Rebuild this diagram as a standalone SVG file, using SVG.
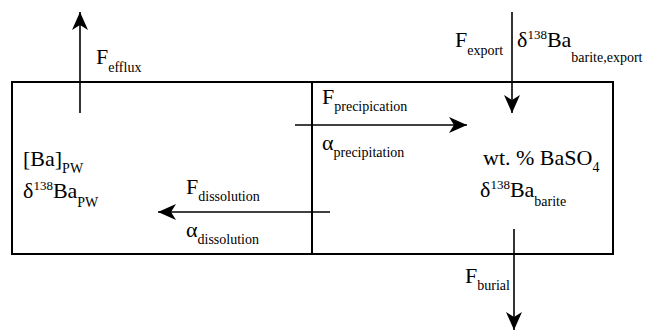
<svg xmlns="http://www.w3.org/2000/svg" width="649" height="331" viewBox="0 0 649 331" font-family="'Liberation Serif', 'DejaVu Serif', serif">
<style>
.m{font-family:'Liberation Serif','DejaVu Serif',serif;font-size:22px;fill:#000}
.s{font-size:14px}
.sup{font-size:13px}
.box{fill:none;stroke:#000;stroke-width:2}
.ar{fill:none;stroke:#000;stroke-width:1.6;marker-end:url(#ah)}
</style>
<defs>
<marker id="ah" markerUnits="userSpaceOnUse" markerWidth="24" markerHeight="20" viewBox="-20 -10 24 20" refX="0" refY="0" orient="auto">
<path d="M0,0 L-18,-8 L-13,0 L-18,8 Z" fill="#000"/>
</marker>
</defs>
<rect width="649" height="331" fill="#fff"/>
<g id="sediment-box">
<rect class="box" x="12" y="82" width="601" height="172"/>
<line x1="312" y1="82" x2="312" y2="254" stroke="#000" stroke-width="2"/>
</g>
<g id="porewater">
<text class="m" x="23" y="166">[Ba]<tspan class="s" dy="7">PW</tspan></text>
<text class="m" x="23" y="198">δ<tspan class="sup" dy="-8">138</tspan><tspan dy="8">Ba</tspan><tspan class="s" dy="9">PW</tspan></text>
</g>
<g id="barite">
<text class="m" x="483" y="165">wt. % BaSO<tspan class="s" dy="7">4</tspan></text>
<text class="m" x="480" y="197">δ<tspan class="sup" dy="-8">138</tspan><tspan dy="8">Ba</tspan><tspan class="s" dy="9">barite</tspan></text>
</g>
<g id="connectors">
<line class="ar" x1="80" y1="113" x2="80" y2="12"/>
<line class="ar" x1="512" y1="12" x2="512" y2="113"/>
<line class="ar" x1="295" y1="125" x2="467" y2="125"/>
<line class="ar" x1="330" y1="212" x2="158" y2="212"/>
<line class="ar" x1="514" y1="229" x2="514" y2="330"/>
</g>
<g id="labels">
<text class="m" x="96" y="64">F<tspan class="s" dy="8">efflux</tspan></text>
<text class="m" x="455" y="47">F<tspan class="s" dy="8">export</tspan></text>
<text class="m" x="517" y="47">δ<tspan class="sup" dy="-8">138</tspan><tspan dy="8">Ba</tspan><tspan class="s" dy="15">barite,export</tspan></text>
<text class="m" x="322" y="104">F<tspan class="s" dy="7">precipication</tspan></text>
<text class="m" x="322" y="150">α<tspan class="s" dy="7">precipitation</tspan></text>
<text class="m" x="186" y="194">F<tspan class="s" dy="7">dissolution</tspan></text>
<text class="m" x="186" y="237">α<tspan class="s" dy="7">dissolution</tspan></text>
<text class="m" x="465" y="283">F<tspan class="s" dy="7">burial</tspan></text>
</g>
</svg>
